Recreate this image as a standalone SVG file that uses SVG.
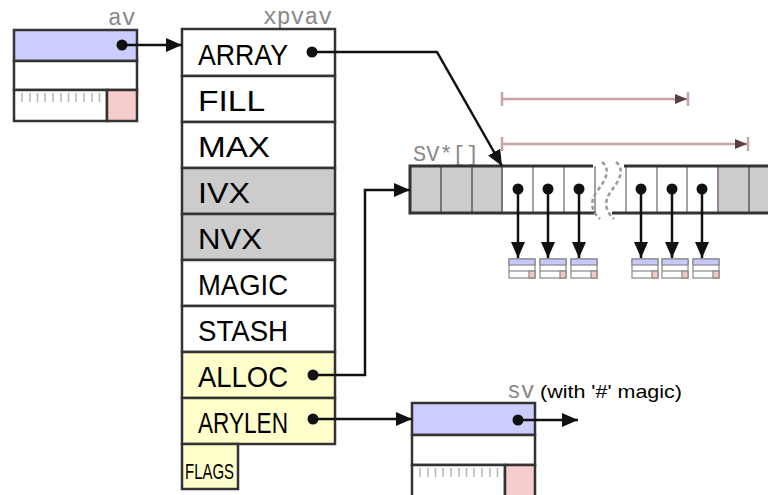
<svg xmlns="http://www.w3.org/2000/svg" xmlns:xlink="http://www.w3.org/1999/xlink" width="768" height="495" viewBox="0 0 768 495">
<style>
.box{stroke:#333;stroke-width:2.5}
.lbl{font-family:"Liberation Sans",Arial,sans-serif;font-size:29px;fill:#000}
.mono{font-family:"Courier New","Nimbus Mono PS","FreeMono","Liberation Mono",monospace;font-size:23px;fill:#888}
.conn{fill:none;stroke:#111;stroke-width:2.5}
.range{fill:none;stroke:#c9a3a3;stroke-width:2.5}
.tick{stroke:#b4b8a8;stroke-width:1.5}
.dot{fill:#111}
</style>
<defs>
<marker id="ah" viewBox="0 0 16 14" refX="16" refY="7" markerWidth="16" markerHeight="14" markerUnits="userSpaceOnUse" orient="auto">
<path d="M0,0 L16,7 L0,14 Z" fill="#111"/>
</marker>
<marker id="rh" viewBox="0 0 12 10" refX="12" refY="5" markerWidth="12" markerHeight="10" markerUnits="userSpaceOnUse" orient="auto">
<path d="M0,0 L12,5 L0,10 Z" fill="#5a4040"/>
</marker>
<g id="minisv">
<rect x="0" y="0" width="26" height="19" fill="#fff" stroke="#888" stroke-width="1.2"/>
<rect x="0" y="0" width="26" height="6" fill="#c8c8ff" stroke="#888" stroke-width="1.2"/>
<line x1="0" y1="12" x2="26" y2="12" stroke="#888" stroke-width="1.2"/>
<rect x="20" y="12" width="6" height="7" fill="#f5c8c8" stroke="#888" stroke-width="1.2"/>
</g>
</defs>
<rect width="768" height="495" fill="#fff"/>

<!-- av -->
<g id="av">
<text class="mono" x="108" y="25">av</text>
<rect class="box" x="14" y="30" width="123" height="31" fill="#ccccff"/>
<rect class="box" x="14" y="61" width="123" height="29" fill="#fff"/>
<rect class="box" x="14" y="90" width="93" height="31" fill="#fff"/>
<rect class="box" x="107" y="90" width="30" height="31" fill="#f7cccc"/>
<g class="tick">
<line x1="22" y1="93" x2="22" y2="102"/><line x1="30" y1="93" x2="30" y2="102"/><line x1="37.5" y1="93" x2="37.5" y2="102"/><line x1="45" y1="93" x2="45" y2="102"/><line x1="53" y1="93" x2="53" y2="102"/><line x1="61" y1="93" x2="61" y2="102"/><line x1="68.5" y1="93" x2="68.5" y2="102"/><line x1="76" y1="93" x2="76" y2="102"/><line x1="84" y1="93" x2="84" y2="102"/><line x1="92" y1="93" x2="92" y2="102"/><line x1="99.5" y1="93" x2="99.5" y2="102"/>
</g>
<circle class="dot" cx="122" cy="45" r="5.5"/>
</g>

<!-- xpvav -->
<g id="xpvav">
<text class="mono" x="263" y="24">xpvav</text>
<rect class="box" x="182" y="29" width="153" height="47" fill="#fff"/>
<rect class="box" x="182" y="76" width="153" height="46" fill="#fff"/>
<rect class="box" x="182" y="122" width="153" height="46" fill="#fff"/>
<rect class="box" x="182" y="168" width="153" height="46" fill="#cccccc"/>
<rect class="box" x="182" y="214" width="153" height="46" fill="#cccccc"/>
<rect class="box" x="182" y="260" width="153" height="46" fill="#fff"/>
<rect class="box" x="182" y="306" width="153" height="46" fill="#fff"/>
<rect class="box" x="182" y="352" width="153" height="46" fill="#ffffcc"/>
<rect class="box" x="182" y="398" width="153" height="46" fill="#ffffcc"/>
<rect class="box" x="182" y="444" width="56" height="45" fill="#ffffcc"/>
<text class="lbl" x="198" y="65" textLength="90" lengthAdjust="spacingAndGlyphs">ARRAY</text>
<text class="lbl" x="198" y="111" textLength="67" lengthAdjust="spacingAndGlyphs">FILL</text>
<text class="lbl" x="198" y="157" textLength="72" lengthAdjust="spacingAndGlyphs">MAX</text>
<text class="lbl" x="198" y="203" textLength="52" lengthAdjust="spacingAndGlyphs">IVX</text>
<text class="lbl" x="198" y="249" textLength="64" lengthAdjust="spacingAndGlyphs">NVX</text>
<text class="lbl" x="198" y="295" textLength="90" lengthAdjust="spacingAndGlyphs">MAGIC</text>
<text class="lbl" x="198" y="341" textLength="90" lengthAdjust="spacingAndGlyphs">STASH</text>
<text class="lbl" x="198" y="387" textLength="90" lengthAdjust="spacingAndGlyphs">ALLOC</text>
<text class="lbl" x="198" y="433" textLength="90" lengthAdjust="spacingAndGlyphs">ARYLEN</text>
<text class="lbl" x="185" y="479" style="font-size:22px" textLength="49" lengthAdjust="spacingAndGlyphs">FLAGS</text>
<circle class="dot" cx="312" cy="52" r="5.5"/>
<circle class="dot" cx="313" cy="375" r="5.5"/>
<circle class="dot" cx="313" cy="419" r="5.5"/>
</g>

<!-- SV* array -->
<g id="svarray">
<text class="mono" x="413" y="161" style="font-size:22px">SV*[]</text>
<rect x="410" y="166" width="92" height="47" fill="#cccccc"/>
<rect x="502" y="166" width="93" height="47" fill="#fff"/>
<rect x="624" y="166" width="94" height="47" fill="#fff"/>
<rect x="718" y="166" width="52" height="47" fill="#cccccc"/>
<g stroke="#777" stroke-width="2">
<line x1="441" y1="166" x2="441" y2="213"/><line x1="472" y1="166" x2="472" y2="213"/><line x1="502" y1="166" x2="502" y2="213"/>
<line x1="749" y1="166" x2="749" y2="213"/><line x1="718" y1="166" x2="718" y2="213" stroke="#998888"/>
</g>
<g stroke="#999" stroke-width="1.8">
<line x1="533" y1="166" x2="533" y2="213"/><line x1="564" y1="166" x2="564" y2="213"/><line x1="595" y1="166" x2="595" y2="213"/>
<line x1="626" y1="166" x2="626" y2="213"/><line x1="657" y1="166" x2="657" y2="213"/><line x1="687" y1="166" x2="687" y2="213"/>
</g>
<g stroke="#333" stroke-width="3" fill="none">
<path d="M593,166 H410 V213 H596"/>
<path d="M624,166 H770"/>
<path d="M612,213 H770"/>
</g>
<g fill="none" stroke="#999" stroke-width="2.5" stroke-dasharray="4 3">
<path d="M602,162 C612,170 604,182 598,190 C590,200 590,210 600,219"/>
<path d="M616,162 C626,170 618,182 612,190 C604,200 604,210 614,219"/>
</g>
<circle class="dot" cx="518" cy="189" r="5.5"/>
<circle class="dot" cx="548" cy="189" r="5.5"/>
<circle class="dot" cx="579" cy="189" r="5.5"/>
<circle class="dot" cx="641" cy="189" r="5.5"/>
<circle class="dot" cx="672" cy="189" r="5.5"/>
<circle class="dot" cx="702" cy="189" r="5.5"/>
</g>

<!-- small SVs -->
<g id="elems">
<use xlink:href="#minisv" x="509" y="259"/>
<use xlink:href="#minisv" x="540" y="259"/>
<use xlink:href="#minisv" x="571" y="259"/>
<use xlink:href="#minisv" x="632" y="259"/>
<use xlink:href="#minisv" x="662" y="259"/>
<use xlink:href="#minisv" x="693" y="259"/>
</g>

<!-- range indicators -->
<g id="ranges">
<line class="range" x1="502" y1="92" x2="502" y2="106"/>
<line class="range" x1="502" y1="99" x2="687" y2="99" marker-end="url(#rh)"/>
<line class="range" x1="688" y1="92" x2="688" y2="106"/>
<line class="range" x1="502" y1="137" x2="502" y2="151"/>
<line class="range" x1="502" y1="144" x2="747" y2="144" marker-end="url(#rh)"/>
<line class="range" x1="748" y1="137" x2="748" y2="151"/>
</g>

<!-- sv with magic -->
<g id="sv">
<text class="mono" x="507" y="398">sv</text>
<text x="540" y="398" font-family="'Liberation Sans',Arial,sans-serif" font-size="19" fill="#000" textLength="142" lengthAdjust="spacingAndGlyphs">(with '#' magic)</text>
<rect class="box" x="412" y="403" width="123" height="32" fill="#ccccff"/>
<rect class="box" x="412" y="435" width="123" height="30" fill="#fff"/>
<rect class="box" x="412" y="465" width="93" height="33" fill="#fff"/>
<rect class="box" x="505" y="465" width="30" height="33" fill="#f7cccc"/>
<g class="tick">
<line x1="420" y1="468" x2="420" y2="477"/><line x1="428" y1="468" x2="428" y2="477"/><line x1="435.5" y1="468" x2="435.5" y2="477"/><line x1="443" y1="468" x2="443" y2="477"/><line x1="451" y1="468" x2="451" y2="477"/><line x1="459" y1="468" x2="459" y2="477"/><line x1="466.5" y1="468" x2="466.5" y2="477"/><line x1="474" y1="468" x2="474" y2="477"/><line x1="482" y1="468" x2="482" y2="477"/><line x1="490" y1="468" x2="490" y2="477"/><line x1="497.5" y1="468" x2="497.5" y2="477"/>
</g>
<circle class="dot" cx="518" cy="420" r="5.5"/>
</g>

<!-- connectors -->
<g id="connectors">
<line class="conn" x1="122" y1="45" x2="182" y2="45" marker-end="url(#ah)"/>
<path class="conn" d="M312,52 H437 L502,166" marker-end="url(#ah)"/>
<path class="conn" d="M313,375 H365 V190 H410" marker-end="url(#ah)"/>
<line class="conn" x1="313" y1="419" x2="412" y2="419" marker-end="url(#ah)"/>
<line class="conn" x1="518" y1="420" x2="578" y2="420" marker-end="url(#ah)"/>
<line class="conn" x1="518" y1="189" x2="518" y2="258" marker-end="url(#ah)"/>
<line class="conn" x1="548" y1="189" x2="548" y2="258" marker-end="url(#ah)"/>
<line class="conn" x1="579" y1="189" x2="579" y2="258" marker-end="url(#ah)"/>
<line class="conn" x1="641" y1="189" x2="641" y2="258" marker-end="url(#ah)"/>
<line class="conn" x1="672" y1="189" x2="672" y2="258" marker-end="url(#ah)"/>
<line class="conn" x1="702" y1="189" x2="702" y2="258" marker-end="url(#ah)"/>
</g>
</svg>
